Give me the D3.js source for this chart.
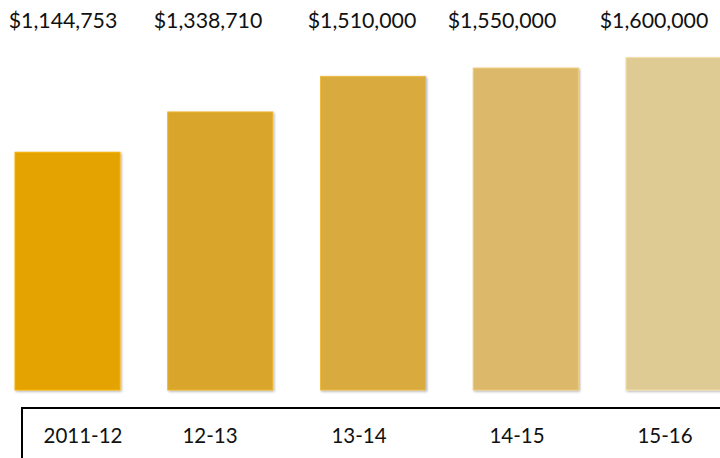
<!DOCTYPE html>
<html>
<head>
<meta charset="utf-8">
<script src="https://cdn.jsdelivr.net/npm/d3@7"></script>
<style>
  html, body { margin: 0; padding: 0; background: #fff; }
  svg { display: block; }
  text { font-family: Lato, "Noto Sans", sans-serif; fill: #111; }
</style>
</head>
<body>
<div id="chart"></div>
<script>
// Annual totals by school year
const years = ["2011-12", "12-13", "13-14", "14-15", "15-16"];
const amounts = [1144753, 1338710, 1510000, 1550000, 1600000];
const barColors = ["#E4A300", "#D9A52A", "#D9AA3C", "#DBB86B", "#DECA93"];
// Horizontal centres of the value row and the year row (table cells)
const valueCentres = [63, 208, 362, 502, 654];
const yearCentres = [83, 210, 359, 517, 665];

const W = 720, H = 458;
const svg = d3.select("#chart").append("svg")
  .attr("width", W).attr("height", H);

const defs = svg.append("defs");
const shadow = defs.append("filter").attr("id", "barShadow")
  .attr("x", "-10%").attr("y", "-10%").attr("width", "130%").attr("height", "130%");
shadow.append("feDropShadow")
  .attr("dx", 1.2).attr("dy", 1.2).attr("stdDeviation", 1)
  .attr("flood-color", "#000").attr("flood-opacity", 0.3);

const x = d3.scaleBand()
  .domain(years)
  .range([15, 731])
  .paddingInner(0.3126)
  .paddingOuter(0);

const y = d3.scaleLinear()
  .domain([0, d3.max(amounts)])
  .range([390, 57.7]);

const data = years.map((yr, i) => ({ yr, v: amounts[i], c: barColors[i] }));

svg.append("g").selectAll("rect")
  .data(data)
  .join("rect")
  .attr("x", d => x(d.yr))
  .attr("y", d => y(d.v))
  .attr("width", x.bandwidth())
  .attr("height", d => y(0) - y(d.v))
  .attr("fill", d => d.c)
  .attr("stroke", d => d3.color(d.c).brighter(0.25))
  .attr("stroke-width", 1)
  .attr("filter", "url(#barShadow)");

// Value row
const fmt = d3.format("$,");
svg.append("g").selectAll("text")
  .data(data)
  .join("text")
  .attr("x", (d, i) => valueCentres[i])
  .attr("y", 28)
  .attr("text-anchor", "middle")
  .style("font-size", "21.3px")
  .text(d => fmt(d.v));

// Year row inside a bordered box
svg.append("path")
  .attr("d", `M22,${H + 2}V408H${W + 2}`)
  .attr("fill", "none")
  .attr("stroke", "#000")
  .attr("stroke-width", 2);

svg.append("g").selectAll("text")
  .data(years)
  .join("text")
  .attr("x", (d, i) => yearCentres[i])
  .attr("y", 443)
  .attr("text-anchor", "middle")
  .style("font-size", "20.5px")
  .text(d => d);
</script>
</body>
</html>
